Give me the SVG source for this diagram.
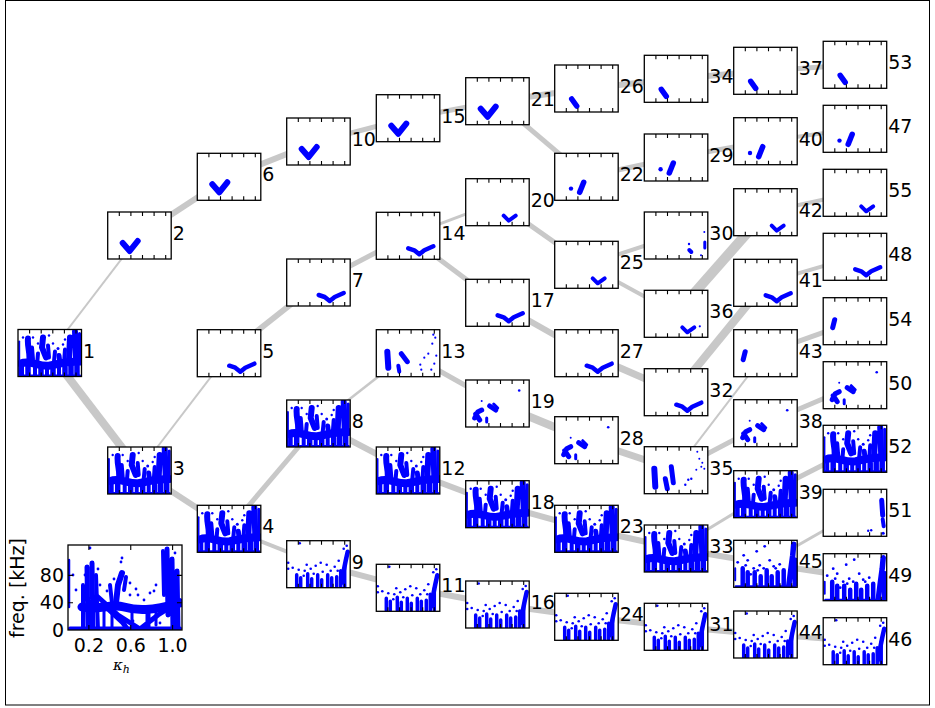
<svg xmlns="http://www.w3.org/2000/svg" xmlns:xlink="http://www.w3.org/1999/xlink" width="935" height="708" viewBox="0 0 935 708">
<style>
.bg{fill:#fff}
.fr{fill:none;stroke:#000;stroke-width:1.3}
.tk{fill:none;stroke:#000;stroke-width:1.1}
.b{fill:#00f}
.s{fill:none;stroke:#00f;stroke-linecap:round;stroke-linejoin:round}
.lbl{font-family:"DejaVu Sans",sans-serif;font-size:19px;fill:#000}
.e{fill:none;stroke:#c8c8c8}
</style>
<defs>
<clipPath id="pc"><rect x="0" y="0" width="63.5" height="47"/></clipPath>
<clipPath id="ic"><rect x="0" y="0" width="114" height="85"/></clipPath>
<g id="frame">
<rect class="fr" x="0" y="0" width="63.5" height="47"/>
<path class="tk" d="M11.6,0v4M23.2,0v4M34.8,0v4M46.4,0v4M58,0v4M11.6,47v-4M23.2,47v-4M34.8,47v-4M46.4,47v-4M58,47v-4"/>
</g>
<rect id="bgr" class="bg" x="0" y="0" width="63.5" height="47"/>
<g id="dense" clip-path="url(#pc)">
<path class="s" stroke-width="2" d="M1.2,12V46"/>
<path class="s" stroke-width="6" d="M10,9C9,18 13,24 11,34M25,8L24,18L28,28M52,8L51,30M57,2L58,30"/>
<path class="s" stroke-width="4" d="M14,18L15,30M20,24L19,36M30,16L31,28M37,22L36,32M47,20L46,34"/>
<path class="s" stroke-width="5" d="M41,26L42,34"/>
<path class="s" stroke-width="3" d="M61.5,4V30"/>
<path class="s" stroke-width="8" d="M3,34C12,30 22,38 32,36S50,32 62,32"/>
<path class="s" stroke-width="4" d="M4,36V46M17,38V46M29,38V46M41,36V46"/>
<path class="s" stroke-width="5.5" d="M10,36V46M23,37V46M35,38V46M47,38V46M53,34V46M59,34V46"/>
<path class="s" stroke-width="2" d="M2,46H62"/>
<g class="b"><circle cx="15" cy="8" r="1.2"/><circle cx="20" cy="14" r="1.2"/><circle cx="35" cy="14" r="1.2"/><circle cx="45" cy="15" r="1.2"/><circle cx="5" cy="8" r="1.2"/><circle cx="31" cy="6" r="1.2"/><circle cx="47" cy="10" r="1.2"/><circle cx="40" cy="19" r="1.5"/></g>
</g>
<g id="semi" clip-path="url(#pc)">
<path class="s" stroke-width="4.5" d="M9,46V28M14,46V32M21,46V32M27,46V36M33,46V30M38,46V36M44,46V32M50,46V30"/>
<path class="s" stroke-width="5.5" d="M55,46L57,30L59,15L60,4M61.5,44V20"/>
<path class="s" stroke-width="2" d="M1.5,40V28M2,46H61"/>
<g class="b"><circle cx="10" cy="15" r="1.4"/><circle cx="14" cy="20" r="1.4"/><circle cx="12" cy="25" r="1.4"/><circle cx="20" cy="28" r="1.4"/><circle cx="26" cy="25" r="1.4"/><circle cx="30" cy="28" r="1.4"/><circle cx="36" cy="20" r="1.4"/><circle cx="40" cy="26" r="1.4"/><circle cx="46" cy="24" r="1.4"/><circle cx="31" cy="6" r="1.4"/><circle cx="23" cy="11" r="1.4"/><circle cx="4" cy="22" r="1.4"/><circle cx="17" cy="34" r="1.4"/><circle cx="42" cy="28" r="1.4"/><circle cx="24" cy="30" r="1.4"/></g>
</g>
<g id="sparse" clip-path="url(#pc)">
<path class="s" stroke-width="3.5" d="M10,46V34M14,46V37M21,46V33M25,46V38M31,46V34M35,46V39M41,46V34M45,46V37M50,46V36M54,46V30M58,46V24"/>
<path class="s" stroke-width="4.5" d="M55,42L57,30L59,20L61,11"/>
<g class="b"><circle cx="6" cy="27" r="1.3"/><circle cx="12" cy="29" r="1.3"/><circle cx="18" cy="30" r="1.3"/><circle cx="24" cy="28" r="1.3"/><circle cx="29" cy="25" r="1.3"/><circle cx="36" cy="31" r="1.3"/><circle cx="40" cy="24" r="1.3"/><circle cx="44" cy="30" r="1.3"/><circle cx="13" cy="2.5" r="1.3"/><circle cx="1.5" cy="22" r="1.3"/><circle cx="1.5" cy="28" r="1.3"/><circle cx="20" cy="24" r="1.3"/><circle cx="34" cy="22" r="1.3"/><circle cx="48" cy="26" r="1.3"/><circle cx="51" cy="30" r="1.3"/><circle cx="57" cy="8" r="1.3"/><circle cx="60" cy="5" r="1.3"/><circle cx="52" cy="20" r="1.3"/><circle cx="27" cy="33" r="1.3"/><circle cx="17" cy="35" r="1.3"/></g>
</g>
<path id="check" class="s" stroke-width="6" d="M15,31L22,39L30,29"/>
<path id="wings" class="s" stroke-width="4.5" d="M32,36L38,38L43,42L48,38L57,34"/>
<path id="smallv" class="s" stroke-width="4" d="M38,37L43,42L50,37"/>
<path id="blob" class="s" stroke-width="5.5" d="M17,34L22,41"/>
<g id="blobdot"><circle class="b" cx="16.3" cy="35.3" r="2.2"/><path class="s" stroke-width="5.5" d="M29,29L25,39"/></g>
<path id="lblob" class="s" stroke-width="5" d="M11.5,22L9.5,30"/>
<g id="clus"><path class="s" stroke-width="5" d="M9,38L12,32L16,30M10,34L14,40M24,26L30,30"/><path class="s" stroke-width="3" d="M28,24L32,28M21,38V42"/><circle class="b" cx="53.5" cy="10.5" r="1.3"/><circle class="b" cx="16" cy="21" r="1"/></g>
</defs>
<rect x="5.5" y="0.5" width="924" height="704.5" fill="#fff" stroke="#000" stroke-width="1"/>
<g id="connectors" class="e">
<line x1="49.75" y1="353" x2="139.45" y2="235.5" stroke-width="2"/>
<line x1="49.75" y1="353" x2="139.45" y2="470.5" stroke-width="8"/>
<line x1="139.45" y1="235.5" x2="229.05" y2="176.8" stroke-width="6"/>
<line x1="139.45" y1="470.5" x2="229.05" y2="353.2" stroke-width="2"/>
<line x1="139.45" y1="470.5" x2="229.05" y2="528.8" stroke-width="6"/>
<line x1="229.05" y1="176.8" x2="318.45" y2="141.5" stroke-width="6"/>
<line x1="229.05" y1="353.2" x2="318.45" y2="282.5" stroke-width="6"/>
<line x1="229.05" y1="528.8" x2="318.45" y2="423.5" stroke-width="5"/>
<line x1="229.05" y1="528.8" x2="318.45" y2="564.2" stroke-width="4"/>
<line x1="318.45" y1="141.5" x2="408.05" y2="118.2" stroke-width="5"/>
<line x1="318.45" y1="282.5" x2="408.05" y2="235.8" stroke-width="5"/>
<line x1="318.45" y1="423.5" x2="408.05" y2="353.2" stroke-width="2.5"/>
<line x1="318.45" y1="423.5" x2="408.05" y2="470.5" stroke-width="6"/>
<line x1="318.45" y1="564.2" x2="408.05" y2="587.8" stroke-width="6"/>
<line x1="408.05" y1="118.2" x2="497.45" y2="101.2" stroke-width="5"/>
<line x1="408.05" y1="235.8" x2="497.45" y2="202.2" stroke-width="3"/>
<line x1="408.05" y1="235.8" x2="497.45" y2="302.8" stroke-width="5"/>
<line x1="408.05" y1="353.2" x2="497.45" y2="403.5" stroke-width="5"/>
<line x1="408.05" y1="470.5" x2="497.45" y2="504.2" stroke-width="6"/>
<line x1="408.05" y1="587.8" x2="497.45" y2="604.5" stroke-width="6"/>
<line x1="497.45" y1="101.2" x2="586.45" y2="88.5" stroke-width="6"/>
<line x1="497.45" y1="101.2" x2="586.45" y2="176.8" stroke-width="5"/>
<line x1="497.45" y1="202.2" x2="586.45" y2="264.8" stroke-width="5"/>
<line x1="497.45" y1="302.8" x2="586.45" y2="353.2" stroke-width="6"/>
<line x1="497.45" y1="403.5" x2="586.45" y2="440.2" stroke-width="8"/>
<line x1="497.45" y1="504.2" x2="586.45" y2="528.8" stroke-width="6"/>
<line x1="497.45" y1="604.5" x2="586.45" y2="616.8" stroke-width="6"/>
<line x1="586.45" y1="88.5" x2="676.05" y2="78.8" stroke-width="6"/>
<line x1="586.45" y1="176.8" x2="676.05" y2="157.5" stroke-width="5"/>
<line x1="586.45" y1="264.8" x2="676.05" y2="235.5" stroke-width="4"/>
<line x1="586.45" y1="264.8" x2="676.05" y2="313.8" stroke-width="4"/>
<line x1="586.45" y1="353.2" x2="676.05" y2="392.2" stroke-width="7"/>
<line x1="586.45" y1="440.2" x2="676.05" y2="470.2" stroke-width="7"/>
<line x1="586.45" y1="528.8" x2="676.05" y2="548.5" stroke-width="6"/>
<line x1="586.45" y1="616.8" x2="676.05" y2="626.8" stroke-width="6"/>
<line x1="676.05" y1="78.8" x2="765.45" y2="70.8" stroke-width="6"/>
<line x1="676.05" y1="157.5" x2="765.45" y2="141.2" stroke-width="5"/>
<line x1="676.05" y1="313.8" x2="765.45" y2="212.2" stroke-width="10"/>
<line x1="676.05" y1="392.2" x2="765.45" y2="282.8" stroke-width="8"/>
<line x1="676.05" y1="470.2" x2="765.45" y2="353.2" stroke-width="2"/>
<line x1="676.05" y1="470.2" x2="765.45" y2="423.2" stroke-width="5"/>
<line x1="676.05" y1="548.5" x2="765.45" y2="494.2" stroke-width="3"/>
<line x1="676.05" y1="548.5" x2="765.45" y2="563.8" stroke-width="6"/>
<line x1="676.05" y1="626.8" x2="765.45" y2="634.5" stroke-width="6"/>
<line x1="765.45" y1="70.8" x2="854.95" y2="64.8" stroke-width="5"/>
<line x1="765.45" y1="141.2" x2="854.95" y2="128.8" stroke-width="4"/>
<line x1="765.45" y1="212.2" x2="854.95" y2="192.8" stroke-width="4"/>
<line x1="765.45" y1="282.8" x2="854.95" y2="256.8" stroke-width="4"/>
<line x1="765.45" y1="353.2" x2="854.95" y2="321.2" stroke-width="5"/>
<line x1="765.45" y1="423.2" x2="854.95" y2="385.2" stroke-width="5"/>
<line x1="765.45" y1="494.2" x2="854.95" y2="448.8" stroke-width="5"/>
<line x1="765.45" y1="563.8" x2="854.95" y2="512.8" stroke-width="3"/>
<line x1="765.45" y1="563.8" x2="854.95" y2="577.2" stroke-width="6"/>
<line x1="765.45" y1="634.5" x2="854.95" y2="641.2" stroke-width="5"/>
</g>
<g id="n1" transform="translate(18,329.5)"><use href="#bgr"/><use href="#dense"/><use href="#frame"/><text class="lbl" x="65" y="28">1</text></g>
<g id="n2" transform="translate(107.7,212)"><use href="#bgr"/><use href="#check"/><use href="#frame"/><text class="lbl" x="65" y="28">2</text></g>
<g id="n3" transform="translate(107.7,447)"><use href="#bgr"/><use href="#dense"/><use href="#frame"/><text class="lbl" x="65" y="28">3</text></g>
<g id="n4" transform="translate(197.3,505.3)"><use href="#bgr"/><use href="#dense"/><use href="#frame"/><text class="lbl" x="65" y="28">4</text></g>
<g id="n5" transform="translate(197.3,329.7)"><use href="#bgr"/><use href="#wings"/><use href="#frame"/><text class="lbl" x="65" y="28">5</text></g>
<g id="n6" transform="translate(197.3,153.3)"><use href="#bgr"/><use href="#check"/><use href="#frame"/><text class="lbl" x="65" y="28">6</text></g>
<g id="n7" transform="translate(286.7,259)"><use href="#bgr"/><use href="#wings"/><use href="#frame"/><text class="lbl" x="65" y="28">7</text></g>
<g id="n8" transform="translate(286.7,400)"><use href="#bgr"/><use href="#dense"/><use href="#frame"/><text class="lbl" x="65" y="28">8</text></g>
<g id="n9" transform="translate(286.7,540.7)"><use href="#bgr"/><use href="#sparse"/><use href="#frame"/><text class="lbl" x="65" y="28">9</text></g>
<g id="n10" transform="translate(286.7,118)"><use href="#bgr"/><use href="#check"/><use href="#frame"/><text class="lbl" x="65" y="28">10</text></g>
<g id="n11" transform="translate(376.3,564.3)"><use href="#bgr"/><use href="#sparse"/><use href="#frame"/><text class="lbl" x="65" y="28">11</text></g>
<g id="n12" transform="translate(376.3,447)"><use href="#bgr"/><use href="#dense"/><use href="#frame"/><text class="lbl" x="65" y="28">12</text></g>
<g id="n13" transform="translate(376.3,329.7)"><use href="#bgr"/><path class="s" stroke-width="6" d="M11,22L12,38"/><path class="s" stroke-width="4" d="M22,36L23,42"/><path class="s" stroke-width="5" d="M25,24L31,32"/><g class="b"><circle cx="44" cy="35" r="1.1"/><circle cx="48" cy="28" r="1.1"/><circle cx="52" cy="24" r="1.1"/><circle cx="56" cy="14" r="1.1"/><circle cx="59" cy="8" r="1.1"/><circle cx="60" cy="26" r="1.1"/><circle cx="58" cy="34" r="1.1"/><circle cx="55" cy="40" r="1.1"/><circle cx="45" cy="40" r="1.1"/><circle cx="57" cy="5" r="1.1"/></g><use href="#frame"/><text class="lbl" x="65" y="28">13</text></g>
<g id="n14" transform="translate(376.3,212.3)"><use href="#bgr"/><use href="#wings"/><use href="#frame"/><text class="lbl" x="65" y="28">14</text></g>
<g id="n15" transform="translate(376.3,94.7)"><use href="#bgr"/><use href="#check"/><use href="#frame"/><text class="lbl" x="65" y="28">15</text></g>
<g id="n16" transform="translate(465.7,581)"><use href="#bgr"/><use href="#sparse"/><use href="#frame"/><text class="lbl" x="65" y="28">16</text></g>
<g id="n17" transform="translate(465.7,279.3)"><use href="#bgr"/><use href="#wings"/><use href="#frame"/><text class="lbl" x="65" y="28">17</text></g>
<g id="n18" transform="translate(465.7,480.7)"><use href="#bgr"/><use href="#dense"/><use href="#frame"/><text class="lbl" x="65" y="28">18</text></g>
<g id="n19" transform="translate(465.7,380)"><use href="#bgr"/><use href="#clus"/><use href="#frame"/><text class="lbl" x="65" y="28">19</text></g>
<g id="n20" transform="translate(465.7,178.7)"><use href="#bgr"/><use href="#smallv"/><use href="#frame"/><text class="lbl" x="65" y="28">20</text></g>
<g id="n21" transform="translate(465.7,77.7)"><use href="#bgr"/><use href="#check"/><use href="#frame"/><text class="lbl" x="65" y="28">21</text></g>
<g id="n22" transform="translate(554.7,153.3)"><use href="#bgr"/><use href="#blobdot"/><use href="#frame"/><text class="lbl" x="65" y="28">22</text></g>
<g id="n23" transform="translate(554.7,505.3)"><use href="#bgr"/><use href="#dense"/><use href="#frame"/><text class="lbl" x="65" y="28">23</text></g>
<g id="n24" transform="translate(554.7,593.3)"><use href="#bgr"/><use href="#sparse"/><use href="#frame"/><text class="lbl" x="65" y="28">24</text></g>
<g id="n25" transform="translate(554.7,241.3)"><use href="#bgr"/><use href="#smallv"/><use href="#frame"/><text class="lbl" x="65" y="28">25</text></g>
<g id="n26" transform="translate(554.7,65)"><use href="#bgr"/><use href="#blob"/><use href="#frame"/><text class="lbl" x="65" y="28">26</text></g>
<g id="n27" transform="translate(554.7,329.7)"><use href="#bgr"/><use href="#wings"/><use href="#frame"/><text class="lbl" x="65" y="28">27</text></g>
<g id="n28" transform="translate(554.7,416.7)"><use href="#bgr"/><use href="#clus"/><use href="#frame"/><text class="lbl" x="65" y="28">28</text></g>
<g id="n29" transform="translate(644.3,134)"><use href="#bgr"/><use href="#blobdot"/><use href="#frame"/><text class="lbl" x="65" y="28">29</text></g>
<g id="n30" transform="translate(644.3,212)"><use href="#bgr"/><g class="b"><circle cx="60" cy="20" r="1"/><circle cx="44.7" cy="32" r="1.2"/><circle cx="56.7" cy="43.3" r="1"/></g><path class="s" stroke-width="3" d="M60.5,30V36"/><path class="s" stroke-width="4" d="M45,38L47,40"/><use href="#frame"/><text class="lbl" x="65" y="28">30</text></g>
<g id="n31" transform="translate(644.3,603.3)"><use href="#bgr"/><use href="#sparse"/><use href="#frame"/><text class="lbl" x="65" y="28">31</text></g>
<g id="n32" transform="translate(644.3,368.7)"><use href="#bgr"/><use href="#wings"/><use href="#frame"/><text class="lbl" x="65" y="28">32</text></g>
<g id="n33" transform="translate(644.3,525)"><use href="#bgr"/><use href="#dense"/><use href="#frame"/><text class="lbl" x="65" y="28">33</text></g>
<g id="n34" transform="translate(644.3,55.3)"><use href="#bgr"/><use href="#blob"/><use href="#frame"/><text class="lbl" x="65" y="28">34</text></g>
<g id="n35" transform="translate(644.3,446.7)"><use href="#bgr"/><path class="s" stroke-width="6" d="M10,22L11,40"/><path class="s" stroke-width="5" d="M21,32L23,42M27,20L29,36"/><g class="b"><circle cx="41" cy="38" r="1.2"/><circle cx="44" cy="33" r="1.2"/><circle cx="47" cy="32" r="1.2"/><circle cx="53" cy="5" r="1"/><circle cx="55" cy="12" r="1"/><circle cx="58" cy="16" r="1"/><circle cx="60" cy="22" r="1"/><circle cx="57" cy="20" r="1"/><circle cx="52" cy="23" r="1"/></g><use href="#frame"/><text class="lbl" x="65" y="28">35</text></g>
<g id="n36" transform="translate(644.3,290.3)"><use href="#bgr"/><use href="#smallv"/><circle class="b" cx="55.5" cy="36" r="1.1"/><use href="#frame"/><text class="lbl" x="65" y="28">36</text></g>
<g id="n37" transform="translate(733.7,47.3)"><use href="#bgr"/><use href="#blob"/><use href="#frame"/><text class="lbl" x="65" y="28">37</text></g>
<g id="n38" transform="translate(733.7,399.7)"><use href="#bgr"/><use href="#clus"/><use href="#frame"/><text class="lbl" x="65" y="28">38</text></g>
<g id="n39" transform="translate(733.7,470.7)"><use href="#bgr"/><use href="#dense"/><use href="#frame"/><text class="lbl" x="65" y="28">39</text></g>
<g id="n40" transform="translate(733.7,117.7)"><use href="#bgr"/><use href="#blobdot"/><use href="#frame"/><text class="lbl" x="65" y="28">40</text></g>
<g id="n41" transform="translate(733.7,259.3)"><use href="#bgr"/><use href="#wings"/><use href="#frame"/><text class="lbl" x="65" y="28">41</text></g>
<g id="n42" transform="translate(733.7,188.7)"><use href="#bgr"/><use href="#smallv"/><use href="#frame"/><text class="lbl" x="65" y="28">42</text></g>
<g id="n43" transform="translate(733.7,329.7)"><use href="#bgr"/><use href="#lblob"/><use href="#frame"/><text class="lbl" x="65" y="28">43</text></g>
<g id="n44" transform="translate(733.7,611)"><use href="#bgr"/><use href="#sparse"/><use href="#frame"/><text class="lbl" x="65" y="28">44</text></g>
<g id="n45" transform="translate(733.7,540.3)"><use href="#bgr"/><use href="#semi"/><use href="#frame"/><text class="lbl" x="65" y="28">45</text></g>
<g id="n46" transform="translate(823.2,617.7)"><use href="#bgr"/><use href="#sparse"/><use href="#frame"/><text class="lbl" x="65" y="28">46</text></g>
<g id="n47" transform="translate(823.2,105.3)"><use href="#bgr"/><use href="#blobdot"/><use href="#frame"/><text class="lbl" x="65" y="28">47</text></g>
<g id="n48" transform="translate(823.2,233.3)"><use href="#bgr"/><use href="#wings"/><use href="#frame"/><text class="lbl" x="65" y="28">48</text></g>
<g id="n49" transform="translate(823.2,553.7)"><use href="#bgr"/><use href="#semi"/><use href="#frame"/><text class="lbl" x="65" y="28">49</text></g>
<g id="n50" transform="translate(823.2,361.7)"><use href="#bgr"/><use href="#clus"/><use href="#frame"/><text class="lbl" x="65" y="28">50</text></g>
<g id="n51" transform="translate(823.2,489.3)"><use href="#bgr"/><path class="s" stroke-width="5" d="M58.5,11L59.5,26"/><path class="s" stroke-width="4" d="M59.5,30L60.5,37"/><g class="b"><circle cx="45" cy="41.5" r="1.2"/><circle cx="48" cy="41" r="1.2"/><circle cx="60" cy="44" r="1.5"/></g><use href="#frame"/><text class="lbl" x="65" y="28">51</text></g>
<g id="n52" transform="translate(823.2,425.3)"><use href="#bgr"/><use href="#dense"/><use href="#frame"/><text class="lbl" x="65" y="28">52</text></g>
<g id="n53" transform="translate(823.2,41.3)"><use href="#bgr"/><use href="#blob"/><use href="#frame"/><text class="lbl" x="65" y="28">53</text></g>
<g id="n54" transform="translate(823.2,297.7)"><use href="#bgr"/><use href="#lblob"/><use href="#frame"/><text class="lbl" x="65" y="28">54</text></g>
<g id="n55" transform="translate(823.2,169.3)"><use href="#bgr"/><use href="#smallv"/><use href="#frame"/><text class="lbl" x="65" y="28">55</text></g>
<g id="legend">
<rect class="bg" x="68" y="545" width="114" height="85"/>
<g transform="translate(68,545)" clip-path="url(#ic)">
<path class="s" stroke-width="2.5" d="M1,15V62"/>
<path class="s" stroke-width="4" d="M15,40L15,85M28,30L30,85M95,6L96,50"/>
<path class="s" stroke-width="5" d="M19,22L20,85M24,18L25,85M99,4L100,70M104,14L105,85M109,26L110,85"/>
<path class="s" stroke-width="9" d="M14,62C30,66 42,58 56,62S82,66 112,58"/>
<path class="s" stroke-width="3" d="M36,62V85M44,60V85M64,64V85M88,62V80"/>
<path class="s" stroke-width="5" d="M30,52L50,70L72,84M72,84L90,70L112,56M80,64V85M40,64L55,78L60,85"/>
<path class="s" stroke-width="6" d="M48,58L50,40L54,28"/>
<path class="s" stroke-width="4" d="M56,45L58,32M42,40L44,58"/>
<path class="s" stroke-width="4" d="M2,83.5H112"/>
<g class="b"><circle cx="54" cy="13" r="1.4"/><circle cx="53" cy="17" r="1.4"/><circle cx="46" cy="34" r="1.4"/><circle cx="62" cy="38" r="1.4"/><circle cx="30" cy="24" r="1.4"/><circle cx="8" cy="45" r="1.4"/><circle cx="32" cy="40" r="1.4"/><circle cx="70" cy="50" r="1.4"/><circle cx="82" cy="48" r="1.4"/><circle cx="76" cy="55" r="1.4"/><circle cx="88" cy="40" r="1.4"/><circle cx="65" cy="76" r="1.4"/><circle cx="92" cy="78" r="1.4"/><circle cx="5" cy="30" r="1.4"/><circle cx="86" cy="46" r="1.4"/><circle cx="62" cy="50" r="1.4"/><circle cx="22" cy="3" r="1.4"/><circle cx="39" cy="46" r="1.4"/><circle cx="68" cy="44" r="1.4"/><circle cx="17" cy="30" r="1.4"/><circle cx="107" cy="8" r="1.4"/></g>
</g>
<rect class="fr" x="68" y="545" width="114" height="85"/>
<path class="tk" d="M88.9,545v5M130.75,545v5M172.6,545v5M88.9,630v-5M130.75,630v-5M172.6,630v-5M68,602.7h5M68,575.4h5M182,602.7h-5M182,575.4h-5"/>
<g class="lbl" text-anchor="middle"><text x="88.9" y="651.5">0.2</text><text x="130.75" y="651.5">0.6</text><text x="172.6" y="651.5">1.0</text></g>
<g class="lbl" text-anchor="end"><text x="64" y="636.5">0</text><text x="64" y="609">40</text><text x="64" y="582">80</text></g>
<text class="lbl" text-anchor="middle" transform="translate(24,588) rotate(-90)">freq. [kHz]</text>
<text x="113" y="670" font-family="DejaVu Serif, serif" font-style="italic" font-size="15">κ<tspan font-size="11" dy="3">h</tspan></text>
</g>
</svg>
